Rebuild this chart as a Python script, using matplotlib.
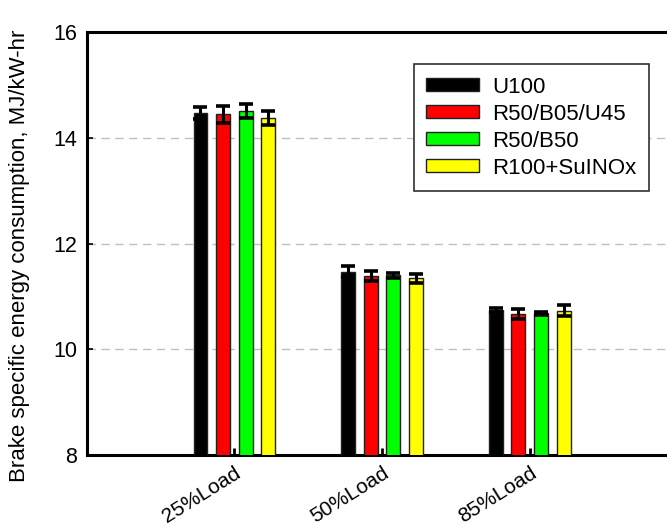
import numpy as np
import matplotlib
matplotlib.use("Agg")
import matplotlib.pyplot as plt

plt.rcParams['font.family'] = ['Liberation Sans', 'DejaVu Sans']

loads = ['25%Load', '50%Load', '85%Load']
fuels = ['U100', 'R50/B05/U45', 'R50/B50', 'R100+SuINOx']
colors = ['#000000', '#ff0000', '#00ff00', '#ffff00']

# mean values, MJ/kW-hr
bsec = np.array([
    [14.47, 11.47, 10.74],   # U100
    [14.45, 11.39, 10.67],   # R50/B05/U45
    [14.51, 11.40, 10.68],   # R50/B50
    [14.37, 11.34, 10.73],   # R100+SuINOx
])
err = np.array([
    [0.12, 0.10, 0.04],
    [0.16, 0.09, 0.09],
    [0.13, 0.05, 0.03],
    [0.13, 0.09, 0.10],
])

fig = plt.figure(figsize=(6.67, 5.27), dpi=100)
ax = fig.add_axes([0.130, 0.1366, 0.87, 0.8024])

x = np.arange(1, len(loads) + 1)
step = 0.153
width = 0.094
for i, f in enumerate(fuels):
    pos = x + (i - 1.5) * step
    ax.bar(pos, bsec[i], width, bottom=0, color=colors[i], edgecolor='#202020',
           linewidth=1.0, label=f, zorder=3)
    ax.errorbar(pos, bsec[i], yerr=err[i], fmt='none', ecolor='black',
                elinewidth=2.2, capsize=4.8, capthick=2.6, zorder=4)

ax.set_ylim(8, 16)
ax.set_xlim(0, 3.93)
ax.set_yticks([8, 10, 12, 14, 16])
ax.set_xticks(x)
ax.set_xticklabels(loads, rotation=32, ha='right', rotation_mode='anchor', fontsize=15)
ax.tick_params(axis='y', labelsize=15.5, direction='in', length=4, width=1.2, pad=7)
ax.tick_params(axis='x', direction='in', length=5, width=2, pad=6)
ax.yaxis.grid(True, linestyle=(0, (6, 4)), color='#c0c0c0', linewidth=1.0, zorder=0)
ax.set_axisbelow(True)

ax.set_ylabel('Brake specific energy consumption, MJ/kW-hr', fontsize=16)
ax.yaxis.set_label_coords(-0.098, 0.47)

for s in ['left', 'bottom', 'top']:
    ax.spines[s].set_linewidth(2.2)
ax.spines['right'].set_visible(False)

leg = ax.legend(loc='upper right', bbox_to_anchor=(0.969, 0.924), borderaxespad=0,
                fontsize=16, handlelength=2.4, handleheight=0.55, fancybox=False,
                framealpha=1, edgecolor='#303030', borderpad=0.55, labelspacing=0.27,
                handletextpad=0.6)
leg.get_frame().set_linewidth(1.2)
leg.get_frame().set_zorder(5)

fig.savefig('out.png', dpi=100)
